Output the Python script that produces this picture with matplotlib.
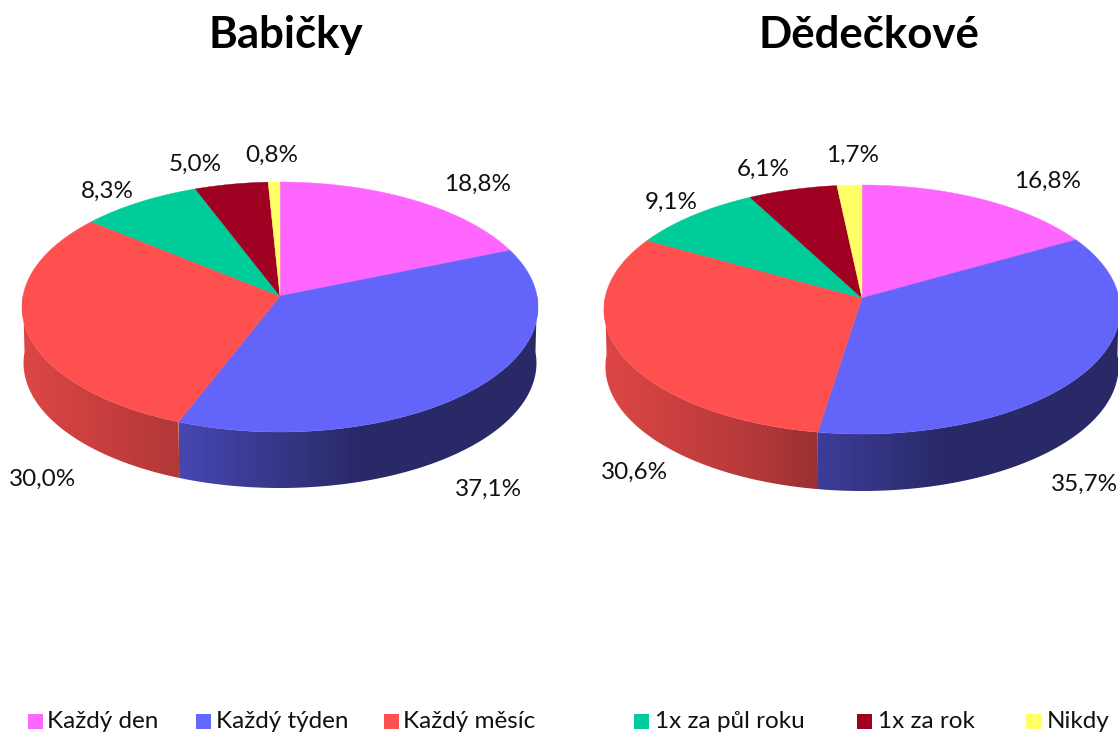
import numpy as np
import matplotlib
matplotlib.use("Agg")
import matplotlib.pyplot as plt
from matplotlib.colors import to_rgb
from matplotlib.patches import Polygon, Rectangle

categories = ["Každý den", "Každý týden", "Každý měsíc", "1x za půl roku", "1x za rok", "Nikdy"]
colors = ["#FF66FF", "#6666FF", "#FF5050", "#00CC99", "#A00021", "#FFFF66"]
top_colors = ["#FF66FF", "#6365FA", "#FF5050", "#00CC99", "#A00021", "#FFFF66"]
babicky = [18.8, 37.1, 30.0, 8.3, 5.0, 0.8]
dedeckove = [16.8, 35.7, 30.6, 9.1, 6.1, 1.7]
babicky_labels = ["18,8%", "37,1%", "30,0%", "8,3%", "5,0%", "0,8%"]
dedeckove_labels = ["16,8%", "35,7%", "30,6%", "9,1%", "6,1%", "1,7%"]

plt.rcParams["font.family"] = ["Lato", "DejaVu Sans"]
W, H = 1118, 733
fig = plt.figure(figsize=(W / 100, H / 100), dpi=100)
ax = fig.add_axes([0, 0, 1, 1])
ax.set_xlim(0, W)
ax.set_ylim(H, 0)
ax.axis("off")

LABEL_FS = 17.5
TITLE_FS = 31.5


def shade(u):
    return np.interp(u, [-1, -0.4, -0.17, 0.3, 1], [0.87, 0.70, 0.60, 0.41, 0.41])


def pie3d(values, labels, cx, cy, R, up, down, depth, label_pos, title, title_x):
    k = (down - up) / (down + up)
    S = up * (1 + k)

    def rim(t, shift=0.0, sx=1.0):
        u, v = np.sin(t), np.cos(t)
        d = 1 + k * v
        return cx + sx * R * u / d, cy - S * v / d + shift

    edges = np.radians(np.concatenate([[0], np.cumsum(values)]) / sum(values) * 360)
    # side wall: horizontal gradient clipped to the visible band of each slice
    for i in range(len(values)):
        a, b = max(edges[i], np.pi / 2), min(edges[i + 1], 3 * np.pi / 2)
        if b <= a:
            continue
        ts = np.linspace(a, b, 200)
        xt, yt = rim(ts)
        xb, yb = rim(ts[::-1], depth, 0.994)
        pts = np.column_stack([np.r_[xt, xb], np.r_[yt, yb]])
        x0, x1 = pts[:, 0].min(), pts[:, 0].max()
        y0, y1 = pts[:, 1].min(), pts[:, 1].max()
        xs = np.linspace(x0, x1, 400)
        grad = np.clip(np.array(to_rgb(colors[i]))[None, None, :] *
                       shade((xs - cx) / R)[None, :, None], 0, 1)
        im = ax.imshow(grad, extent=(x0, x1, y1, y0), aspect="auto",
                       interpolation="bilinear", zorder=1)
        clip = Polygon(pts, closed=True, transform=ax.transData)
        im.set_clip_path(clip)
    # top face
    for i in range(len(values)):
        ts = np.linspace(edges[i], edges[i + 1], 120)
        xs, ys = rim(ts)
        pts = np.column_stack([np.r_[cx, xs], np.r_[cy, ys]])
        ax.add_patch(Polygon(pts, closed=True, facecolor=top_colors[i],
                             edgecolor=top_colors[i], lw=0.3, zorder=2))
    for lab, (x, y) in zip(labels, label_pos):
        ax.text(x, y, lab, ha="center", va="center", fontsize=LABEL_FS, color="#111111", zorder=3)
    ax.text(title_x, 35, title, ha="center", va="center", fontsize=TITLE_FS,
            fontweight="bold", color="black")


pie3d(babicky, babicky_labels, 280, 296, 257, 114, 136, 56,
      [(478, 184), (488, 489), (43, 479), (107, 191), (195, 164), (272, 155)],
      "Babičky", 285.5)
pie3d(dedeckove, dedeckove_labels, 862, 298, 257, 113, 136, 57,
      [(1048, 181), (1084, 484), (634, 472), (671, 202), (763, 169), (853, 155)],
      "Dědečkové", 868.5)
ax.set_xlim(0, W)
ax.set_ylim(H, 0)

legend_x = [28, 196, 384, 634, 857, 1026]
legend_tx = [47, 216, 403, 655, 878, 1047]
for c, lab, x, tx in zip(colors, categories, legend_x, legend_tx):
    ax.add_patch(Rectangle((x, 714), 14.5, 15, facecolor=c, edgecolor="none"))
    ax.text(tx, 722, lab, ha="left", va="center", fontsize=LABEL_FS, color="#111111")

fig.savefig("out.png", dpi=100, facecolor="white")
